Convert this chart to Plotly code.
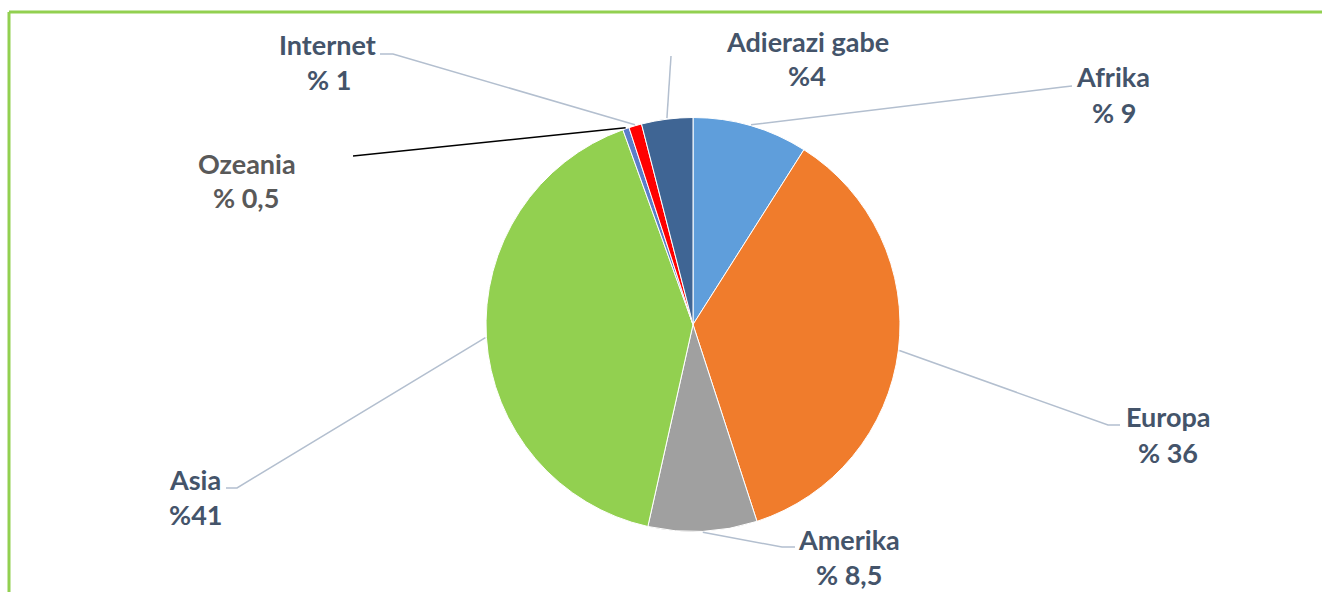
import math
import plotly.graph_objects as go

# ---- data ----
regions = ["Afrika", "Europa", "Amerika", "Asia", "Ozeania", "Internet", "Adierazi gabe"]
shares = [9, 36, 8.5, 41, 0.5, 1, 4]
value_labels = ["% 9", "% 36", "% 8,5", "%41", "% 0,5", "% 1", "%4"]
slice_colors = ["#5f9edb", "#f07c2c", "#a0a0a0", "#92d050", "#5b7ec9", "#ff0000", "#3f6594"]

W, H = 1322, 592
CX, CY, R = 693, 324.5, 207

def px(x):
    return x / W

def py(y):
    return 1 - y / H

# label layout (pixel positions): name centre, value centre, leader elbow points
label_pos = {
    "Afrika": ((1113, 77), (1114, 112), [(1063, 87), (1072, 86)]),
    "Europa": ((1168, 416), (1168, 452), [(1108, 425), (1120, 425)]),
    "Amerika": ((849, 539), (849, 574), [(782, 547), (795, 547)]),
    "Asia": ((195, 479), (195, 514), [(237, 488), (226, 488)]),
    "Ozeania": ((247, 163), (246, 197), [(353, 156)]),
    "Internet": ((327, 44), (329, 80), [(393, 54), (380, 54)]),
    "Adierazi gabe": ((807, 41), (807, 75), [(671, 56)]),
}

fig = go.Figure()
fig.add_trace(go.Pie(
    labels=regions,
    values=shares,
    sort=False,
    direction="clockwise",
    rotation=0,
    marker=dict(colors=slice_colors, line=dict(color="white", width=1)),
    textinfo="none",
    hoverinfo="label+value",
    showlegend=False,
    domain=dict(x=[px(CX - R), px(CX + R)], y=[py(CY + R), py(CY - R)]),
))

shapes = []
annotations = []
total = sum(shares)
cum = 0
for name, val, vlab in zip(regions, shares, value_labels):
    mid = (cum + val / 2) / total * 2 * math.pi
    cum += val
    ex = CX + (R + 1) * math.sin(mid)
    ey = CY - (R + 1) * math.cos(mid)
    (nx, ny), (vx, vy), pts = label_pos[name]
    path = f"M {px(ex)} {py(ey)}"
    for (qx, qy) in pts:
        path += f" L {px(qx)} {py(qy)}"
    lcolor = "#000000" if name == "Ozeania" else "#b3bfcf"
    shapes.append(dict(type="path", xref="paper", yref="paper", path=path,
                       line=dict(color=lcolor, width=1.5)))
    tcolor = "#595959" if name == "Ozeania" else "#44546a"
    for text, (tx, ty) in ((name, (nx, ny)), (vlab, (vx, vy))):
        annotations.append(dict(
            x=px(tx), y=py(ty), xref="paper", yref="paper",
            text=text, showarrow=False, xanchor="center", yanchor="middle",
            font=dict(family="Lato", size=27, color=tcolor, weight=700),
        ))

# chart frame (top and left edges visible)
shapes.append(dict(type="line", xref="paper", yref="paper",
                   x0=px(9), y0=py(12), x1=px(W + 10), y1=py(12),
                   line=dict(color="#92d050", width=3)))
shapes.append(dict(type="line", xref="paper", yref="paper",
                   x0=px(9), y0=py(12), x1=px(9), y1=py(H + 10),
                   line=dict(color="#92d050", width=3)))

fig.update_layout(
    width=W, height=H,
    margin=dict(l=0, r=0, t=0, b=0),
    paper_bgcolor="white",
    plot_bgcolor="white",
    shapes=shapes,
    annotations=annotations,
)

fig.write_html(
    "out.html",
    config={"displayModeBar": False},
    post_script="document.body.style.margin='0';document.body.style.overflow='hidden';",
)
